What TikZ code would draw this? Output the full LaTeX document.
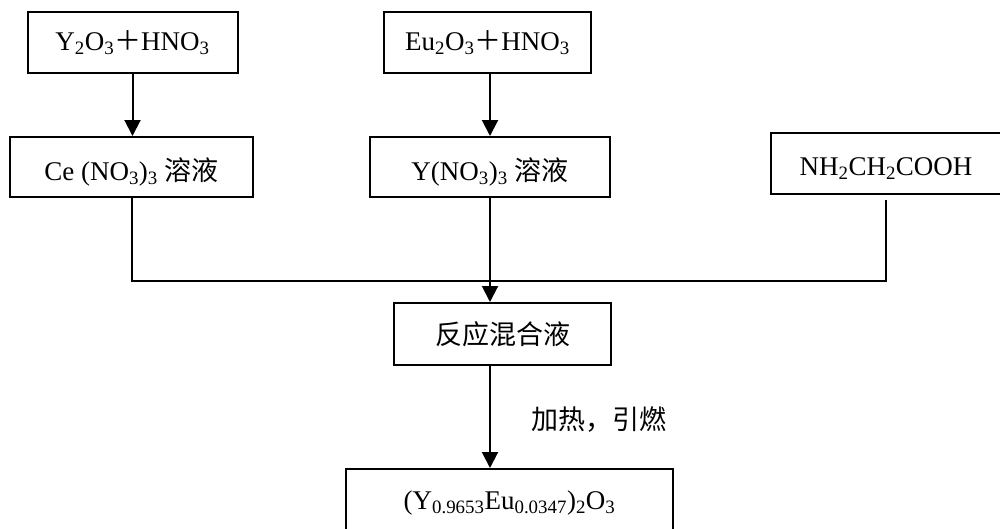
\documentclass[tikz,border=0pt]{standalone}
\usepackage{fontspec}
\setmainfont{Liberation Serif}
\newfontfamily\cjk{Noto Sans CJK SC}
\usetikzlibrary{arrows.meta}
\newcommand\sbs[1]{\textsubscript{#1}}
\newcommand\lowr[1]{\raisebox{-5pt}[\height][\depth]{#1}}
\begin{document}
\begin{tikzpicture}[x=1pt,y=-1pt,
  box/.style={draw,line width=2pt,inner sep=0pt,font=\fontsize{27}{32}\selectfont},
  conn/.style={line width=2pt},
  arr/.style={line width=2pt,-{Triangle[width=16pt,length=16pt]}}]
\useasboundingbox (0,0) rectangle (1000,528);
\node[box,minimum width=210pt,minimum height=61pt] (A) at (132.5,42.5) {Y\sbs{2}O\sbs{3}{\cjk ＋}HNO\sbs{3}};
\node[box,minimum width=243pt,minimum height=60pt] (B) at (131.5,167) {\lowr{Ce (NO\sbs{3})\sbs{3} {\cjk 溶液}}};
\node[box,minimum width=207pt,minimum height=61pt] (C) at (487.5,42.5) {Eu\sbs{2}O\sbs{3}{\cjk ＋}HNO\sbs{3}};
\node[box,minimum width=240pt,minimum height=60pt] (D) at (490,167) {\lowr{Y(NO\sbs{3})\sbs{3} {\cjk 溶液}}};
\node[box,minimum width=230pt,minimum height=61pt] (E) at (886,163.5) {\lowr{NH\sbs{2}CH\sbs{2}COOH}};
\node[box,minimum width=217pt,minimum height=62pt] (F) at (502.5,334) {\cjk 反应混合液};
\node[box,minimum width=327pt,minimum height=68pt] (G) at (509.5,503) {(Y\sbs{0.9653}Eu\sbs{0.0347})\sbs{2}O\sbs{3}};
\node[font=\cjk\fontsize{27}{32}\selectfont,inner sep=0pt] (L) at (598.5,420) {加热，引燃};
\coordinate (J) at (490,281);
\coordinate (Et) at ([yshift=-5pt]E.south);
\draw[arr] (A.south) -- (A.south |- B.north);
\draw[arr] (D.north |- C.south) -- (D.north);
\draw[conn] (B.south) -- (B.south |- J) -- (Et |- J) -- (Et);
\draw[arr] (D.south) -- (D.south |- F.north);
\draw[arr] (D.south |- F.south) -- (D.south |- G.north);
\end{tikzpicture}
\end{document}
